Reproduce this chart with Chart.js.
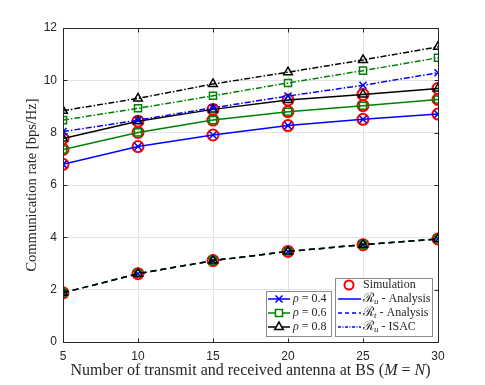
<!DOCTYPE html>
<html>
<head>
<meta charset="utf-8">
<script src="https://cdn.jsdelivr.net/npm/chart.js@4.4.1/dist/chart.umd.min.js"></script>
<style>
  html, body { margin: 0; padding: 0; background: #fff; }
</style>
</head>
<body>
<canvas id="myChart" width="485" height="385"></canvas>
<script>
// number of antennas M = N
const antennas = [5, 10, 15, 20, 25, 30];

// R_u analysis (solid)
const ruAnalysis04 = [6.79, 7.47, 7.91, 8.27, 8.51, 8.71];
const ruAnalysis06 = [7.36, 8.01, 8.48, 8.80, 9.03, 9.27];
const ruAnalysis08 = [7.78, 8.44, 8.89, 9.25, 9.46, 9.69];

// R_t analysis (dashed) - the three rho curves coincide
const rtAnalysis04 = [1.88, 2.61, 3.11, 3.46, 3.72, 3.94];
const rtAnalysis06 = [1.88, 2.61, 3.11, 3.46, 3.72, 3.94];
const rtAnalysis08 = [1.88, 2.61, 3.11, 3.46, 3.72, 3.94];

// R_u ISAC (dash-dot)
const ruIsac04 = [8.04, 8.48, 8.95, 9.40, 9.81, 10.29];
const ruIsac06 = [8.48, 8.93, 9.41, 9.90, 10.37, 10.86];
const ruIsac08 = [8.84, 9.31, 9.86, 10.31, 10.78, 11.28];

// simulation points (red circles)
const simRu04 = [6.79, 7.47, 7.91, 8.27, 8.51, 8.71];
const simRu06 = [7.36, 8.01, 8.48, 8.80, 9.03, 9.27];
const simRu08 = [7.78, 8.44, 8.89, 9.25, 9.46, 9.69];
const simRt = [1.88, 2.61, 3.11, 3.46, 3.72, 3.94];

const xTicks = [5, 10, 15, 20, 25, 30];
const yTicks = [0, 2, 4, 6, 8, 10, 12];

const BLUE = '#0000ff', GREEN = '#008000', BLACK = '#000000', RED = '#ff0000';
const DASH = [6, 4];
const DASHDOT = [6, 2, 1.5, 2];

function pts(arr) {
  return arr.map((v, i) => ({x: antennas[i], y: v}));
}

function lineSet(data, color, style, dash, order) {
  return {
    data: pts(data),
    borderColor: color,
    backgroundColor: color,
    borderWidth: 1.5,
    borderDash: dash,
    pointStyle: style,
    pointRadius: 5,
    pointBorderWidth: 1.5,
    pointBorderColor: color,
    pointBackgroundColor: 'rgba(0,0,0,0)',
    tension: 0,
    fill: false,
    order: order
  };
}

function simSet(data) {
  return {
    data: pts(data),
    showLine: false,
    pointStyle: 'circle',
    pointRadius: 5.5,
    pointBorderWidth: 2,
    pointBorderColor: RED,
    pointBackgroundColor: 'rgba(0,0,0,0)',
    order: 20
  };
}

const SERIF = '"Liberation Serif", "Times New Roman", serif';
const SANS = 'Arial, Helvetica, sans-serif';

function drawRuns(ctx, runs, x, y, align) {
  let total = 0;
  runs.forEach(r => { ctx.font = r.font; total += ctx.measureText(r.t).width; });
  let cx = align === 'center' ? x - total / 2 : x;
  ctx.textAlign = 'left';
  ctx.textBaseline = 'middle';
  runs.forEach(r => {
    ctx.font = r.font;
    ctx.fillText(r.t, cx, y + (r.dy || 0));
    cx += ctx.measureText(r.t).width;
  });
}

const matlabFrame = {
  id: 'matlabFrame',
  afterDraw(chart) {
    const {ctx, chartArea: a, scales} = chart;
    ctx.save();
    ctx.strokeStyle = '#262626';
    ctx.lineWidth = 1;
    const L = Math.round(a.left) + 0.5, R = Math.round(a.right) + 0.5;
    const T = Math.round(a.top) + 0.5, B = Math.round(a.bottom) + 0.5;
    ctx.beginPath();
    ctx.rect(L, T, R - L, B - T);
    // inward ticks
    xTicks.forEach(v => {
      const px = Math.round(scales.x.getPixelForValue(v)) + 0.5;
      ctx.moveTo(px, B); ctx.lineTo(px, B - 4);
      ctx.moveTo(px, T); ctx.lineTo(px, T + 4);
    });
    yTicks.forEach(v => {
      const py = Math.round(scales.y.getPixelForValue(v)) + 0.5;
      ctx.moveTo(L, py); ctx.lineTo(L + 4, py);
      ctx.moveTo(R, py); ctx.lineTo(R - 4, py);
    });
    ctx.stroke();

    // x axis title with italic M and N
    ctx.fillStyle = '#262626';
    const f = '16px ' + SERIF, fi = 'italic 16px ' + SERIF;
    drawRuns(ctx, [
      {t: 'Number of transmit and received antenna at BS (', font: f},
      {t: 'M', font: fi},
      {t: ' = ', font: f},
      {t: 'N', font: fi},
      {t: ')', font: f}
    ], (a.left + a.right) / 2, 371, 'center');

    // legend boxes
    const f12 = '12px ' + SERIF, fi12 = 'italic 12px ' + SERIF;
    const fsub = 'italic 9px ' + SERIF, fR = '13px ' + SERIF;
    ctx.fillStyle = '#fff';
    ctx.strokeStyle = '#8a8a8a';
    ctx.lineWidth = 1;
    ctx.fillRect(266.5, 291.5, 65, 45);
    ctx.strokeRect(266.5, 291.5, 65, 45);
    ctx.fillRect(335.5, 278.5, 97, 58);
    ctx.strokeRect(335.5, 278.5, 97, 58);

    const rows = [299, 313, 327];
    const rhoItems = [
      {c: BLUE, s: 'crossRot', t: ' = 0.4'},
      {c: GREEN, s: 'rect', t: ' = 0.6'},
      {c: BLACK, s: 'triangle', t: ' = 0.8'}
    ];
    rhoItems.forEach((it, i) => {
      const y = rows[i];
      ctx.strokeStyle = it.c;
      ctx.lineWidth = 1.5;
      ctx.setLineDash([]);
      ctx.beginPath(); ctx.moveTo(268, y); ctx.lineTo(290, y); ctx.stroke();
      ctx.fillStyle = '#fff';
      Chart.helpers.drawPoint(ctx, {pointStyle: it.s, radius: 5, borderWidth: 1.5}, 279, y);
      ctx.fillStyle = '#262626';
      drawRuns(ctx, [{t: 'ρ', font: fi12}, {t: it.t, font: f12}], 293, y, 'left');
    });

    // simulation row
    ctx.strokeStyle = RED;
    ctx.lineWidth = 2;
    ctx.beginPath(); ctx.arc(349, 285, 4.5, 0, Math.PI * 2); ctx.stroke();
    ctx.fillStyle = '#262626';
    drawRuns(ctx, [{t: 'Simulation', font: f12}], 363, 285, 'left');

    const anaItems = [
      {dash: [], sub: 'u', t: ' - Analysis', y: 299},
      {dash: [4, 3], sub: 't', t: ' - Analysis', y: 313},
      {dash: [3, 1.5, 1, 1.5], sub: 'u', t: ' - ISAC', y: 327}
    ];
    anaItems.forEach(it => {
      ctx.strokeStyle = BLUE;
      ctx.lineWidth = 1.5;
      ctx.setLineDash(it.dash);
      ctx.beginPath(); ctx.moveTo(338, it.y); ctx.lineTo(361, it.y); ctx.stroke();
      ctx.setLineDash([]);
      ctx.fillStyle = '#262626';
      drawRuns(ctx, [
        {t: 'ℛ', font: fR},
        {t: it.sub, font: fsub, dy: 3},
        {t: it.t, font: f12}
      ], 363, it.y, 'left');
    });
    ctx.restore();
  }
};

const ctx = document.getElementById('myChart').getContext('2d');

const myChart = new Chart(ctx, {
  type: 'line',
  data: {
    datasets: [
      lineSet(ruAnalysis04, BLUE, 'crossRot', [], 6),
      lineSet(ruAnalysis06, GREEN, 'rect', [], 5),
      lineSet(ruAnalysis08, BLACK, 'triangle', [], 4),
      lineSet(rtAnalysis04, BLUE, 'crossRot', DASH, 6),
      lineSet(rtAnalysis06, GREEN, 'rect', DASH, 5),
      lineSet(rtAnalysis08, BLACK, 'triangle', DASH, 4),
      lineSet(ruIsac04, BLUE, 'crossRot', DASHDOT, 3),
      lineSet(ruIsac06, GREEN, 'rect', DASHDOT, 2),
      lineSet(ruIsac08, BLACK, 'triangle', DASHDOT, 1),
      simSet(simRu04),
      simSet(simRu06),
      simSet(simRu08),
      simSet(simRt)
    ]
  },
  options: {
    responsive: false,
    animation: false,
    layout: {padding: {left: 0, right: 47, top: 28, bottom: 0}},
    plugins: {
      legend: {display: false},
      tooltip: {enabled: false}
    },
    scales: {
      x: {
        type: 'linear',
        min: 5,
        max: 30,
        afterFit(scale) { scale.height = 43; },
        afterBuildTicks(scale) { scale.ticks = xTicks.map(v => ({value: v})); },
        grid: {color: '#e3e3e3', drawTicks: false},
        border: {display: false},
        ticks: {
          color: '#262626',
          font: {family: SANS, size: 12},
          padding: 7,
          maxRotation: 0
        }
      },
      y: {
        min: 0,
        max: 12,
        afterFit(scale) { scale.width = 63; },
        afterBuildTicks(scale) { scale.ticks = yTicks.map(v => ({value: v})); },
        grid: {color: '#e3e3e3', drawTicks: false},
        border: {display: false},
        ticks: {
          color: '#262626',
          font: {family: SANS, size: 12},
          padding: 6
        },
        title: {
          display: true,
          text: 'Communication rate [bps/Hz]',
          color: '#262626',
          font: {family: SERIF, size: 14.5},
          padding: {top: 23, bottom: 0}
        }
      }
    }
  },
  plugins: [matlabFrame]
});
</script>
</body>
</html>
